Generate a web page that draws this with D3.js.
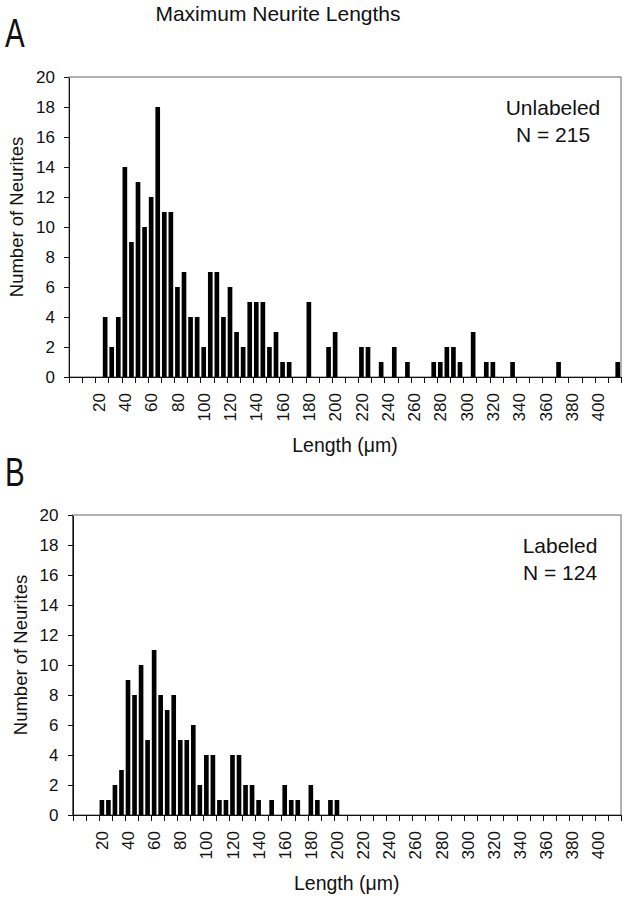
<!doctype html>
<html lang="en">

<head>
    <meta charset="UTF-8" />
    <title>Maximum Neurite Lengths</title>
    <script src="https://d3js.org/d3.v7.min.js"></script>
    <style>
        body {
            margin: 0;
            padding: 0;
            background: #ffffff;
        }

        svg {
            display: block;
            font-family: "Liberation Sans", Arial, sans-serif;
        }

        .axis path,
        .axis line {
            stroke: #111;
            shape-rendering: crispEdges;
        }

        .axis text {
            font-size: 17px;
            fill: #111;
        }
    </style>
</head>

<body>
    <svg id="chart" width="627" height="899"></svg>
    <script>
        // 5 um bins, lower edge of each bin
        const bins = [
            0, 5, 10, 15, 20, 25, 30, 35, 40, 45, 50, 55, 60, 65, 70, 75, 80, 85, 90, 95,
            100, 105, 110, 115, 120, 125, 130, 135, 140, 145, 150, 155, 160, 165, 170, 175, 180, 185, 190, 195,
            200, 205, 210, 215, 220, 225, 230, 235, 240, 245, 250, 255, 260, 265, 270, 275, 280, 285, 290, 295,
            300, 305, 310, 315, 320, 325, 330, 335, 340, 345, 350, 355, 360, 365, 370, 375, 380, 385, 390, 395,
            400, 405, 410, 415
        ];

        const unlabeledCounts = [
            0, 0, 0, 0, 0, 4, 2, 4, 14, 9, 13, 10, 12, 18, 11, 11, 6, 7, 4, 4,
            2, 7, 7, 4, 6, 3, 2, 5, 5, 5, 2, 3, 1, 1, 0, 0, 5, 0, 0, 2,
            3, 0, 0, 0, 2, 2, 0, 1, 0, 2, 0, 1, 0, 0, 0, 1, 1, 2, 2, 1,
            0, 3, 0, 1, 1, 0, 0, 1, 0, 0, 0, 0, 0, 0, 1, 0, 0, 0, 0, 0,
            0, 0, 0, 1
        ];

        const labeledCounts = [
            0, 0, 0, 0, 1, 1, 2, 3, 9, 8, 10, 5, 11, 8, 7, 8, 5, 5, 6, 2,
            4, 4, 1, 1, 4, 4, 2, 2, 1, 0, 1, 0, 2, 1, 1, 0, 2, 1, 0, 1,
            1, 0, 0, 0, 0, 0, 0, 0, 0, 0, 0, 0, 0, 0, 0, 0, 0, 0, 0, 0,
            0, 0, 0, 0, 0, 0, 0, 0, 0, 0, 0, 0, 0, 0, 0, 0, 0, 0, 0, 0,
            0, 0, 0, 0
        ];

        const xTickLabels = [20, 40, 60, 80, 100, 120, 140, 160, 180, 200,
            220, 240, 260, 280, 300, 320, 340, 360, 380, 400];
        const yTicks = [0, 2, 4, 6, 8, 10, 12, 14, 16, 18, 20];

        const svg = d3.select("#chart");

        svg.append("text")
            .attr("x", 278)
            .attr("y", 21)
            .attr("text-anchor", "middle")
            .attr("font-size", 21)
            .attr("fill", "#111")
            .text("Maximum Neurite Lengths");

        function drawPanel(opts) {
            const { left, right, top, bottom, counts, letter, letterY, note, noteX } = opts;
            const g = svg.append("g");

            const xBand = d3.scaleBand()
                .domain(bins)
                .range([left, right])
                .paddingInner(0.29)
                .paddingOuter(0.145);

            const xLin = d3.scaleLinear()
                .domain([0, 420])
                .range([left, right]);

            const y = d3.scaleLinear()
                .domain([0, 20])
                .range([bottom, top]);

            // plot frame
            g.append("rect")
                .attr("x", left)
                .attr("y", top)
                .attr("width", right - left)
                .attr("height", bottom - top)
                .attr("fill", "none")
                .attr("stroke", "#666")
                .attr("stroke-width", 1);

            // bars
            g.selectAll(".bar")
                .data(bins.map((b, i) => ({ bin: b, n: counts[i] })).filter(d => d.n > 0))
                .enter()
                .append("rect")
                .attr("class", "bar")
                .attr("x", d => xBand(d.bin))
                .attr("width", xBand.bandwidth())
                .attr("y", d => y(d.n))
                .attr("height", d => y(0) - y(d.n))
                .attr("fill", "#000");

            // tick marks between bins
            g.append("g")
                .attr("class", "axis")
                .attr("transform", `translate(0,${bottom})`)
                .call(d3.axisBottom(xLin)
                    .tickValues(d3.range(0, 421, 10))
                    .tickSize(6)
                    .tickSizeOuter(0)
                    .tickFormat(""));

            // bin labels, rotated
            const xLab = g.append("g")
                .attr("class", "axis")
                .attr("transform", `translate(0,${bottom})`)
                .call(d3.axisBottom(xBand)
                    .tickValues(xTickLabels)
                    .tickSize(0)
                    .tickFormat(d => d));
            xLab.select(".domain").remove();
            xLab.selectAll("text")
                .attr("transform", "rotate(-90)")
                .attr("text-anchor", "end")
                .attr("x", -16)
                .attr("y", 0)
                .attr("dy", "0.36em");

            g.append("g")
                .attr("class", "axis")
                .attr("transform", `translate(${left},0)`)
                .call(d3.axisLeft(y)
                    .tickValues(yTicks)
                    .tickSize(5)
                    .tickSizeOuter(0)
                    .tickPadding(9));

            g.append("text")
                .attr("transform", `translate(${left - 46},${(top + bottom) / 2 - 10}) rotate(-90)`)
                .attr("text-anchor", "middle")
                .attr("font-size", 18.5)
                .attr("fill", "#111")
                .text("Number of Neurites");

            g.append("text")
                .attr("x", (left + right) / 2)
                .attr("y", bottom + 75)
                .attr("text-anchor", "middle")
                .attr("font-size", 19.5)
                .attr("fill", "#111")
                .text("Length (\u03bcm)");

            g.append("text")
                .attr("transform", `translate(5,${letterY}) scale(0.72,1)`)
                .attr("font-size", 41)
                .attr("fill", "#111")
                .text(letter);

            note.forEach((t, i) => {
                g.append("text")
                    .attr("x", noteX)
                    .attr("y", top + 38 + i * 27)
                    .attr("text-anchor", "middle")
                    .attr("font-size", 21)
                    .attr("fill", "#111")
                    .text(t);
            });
        }

        drawPanel({
            left: 69, right: 621, top: 77, bottom: 377,
            counts: unlabeledCounts,
            letter: "A", letterY: 47,
            note: ["Unlabeled", "N = 215"], noteX: 553
        });

        drawPanel({
            left: 72.5, right: 621, top: 515, bottom: 815,
            counts: labeledCounts,
            letter: "B", letterY: 486,
            note: ["Labeled", "N = 124"], noteX: 560
        });
    </script>
</body>

</html>
